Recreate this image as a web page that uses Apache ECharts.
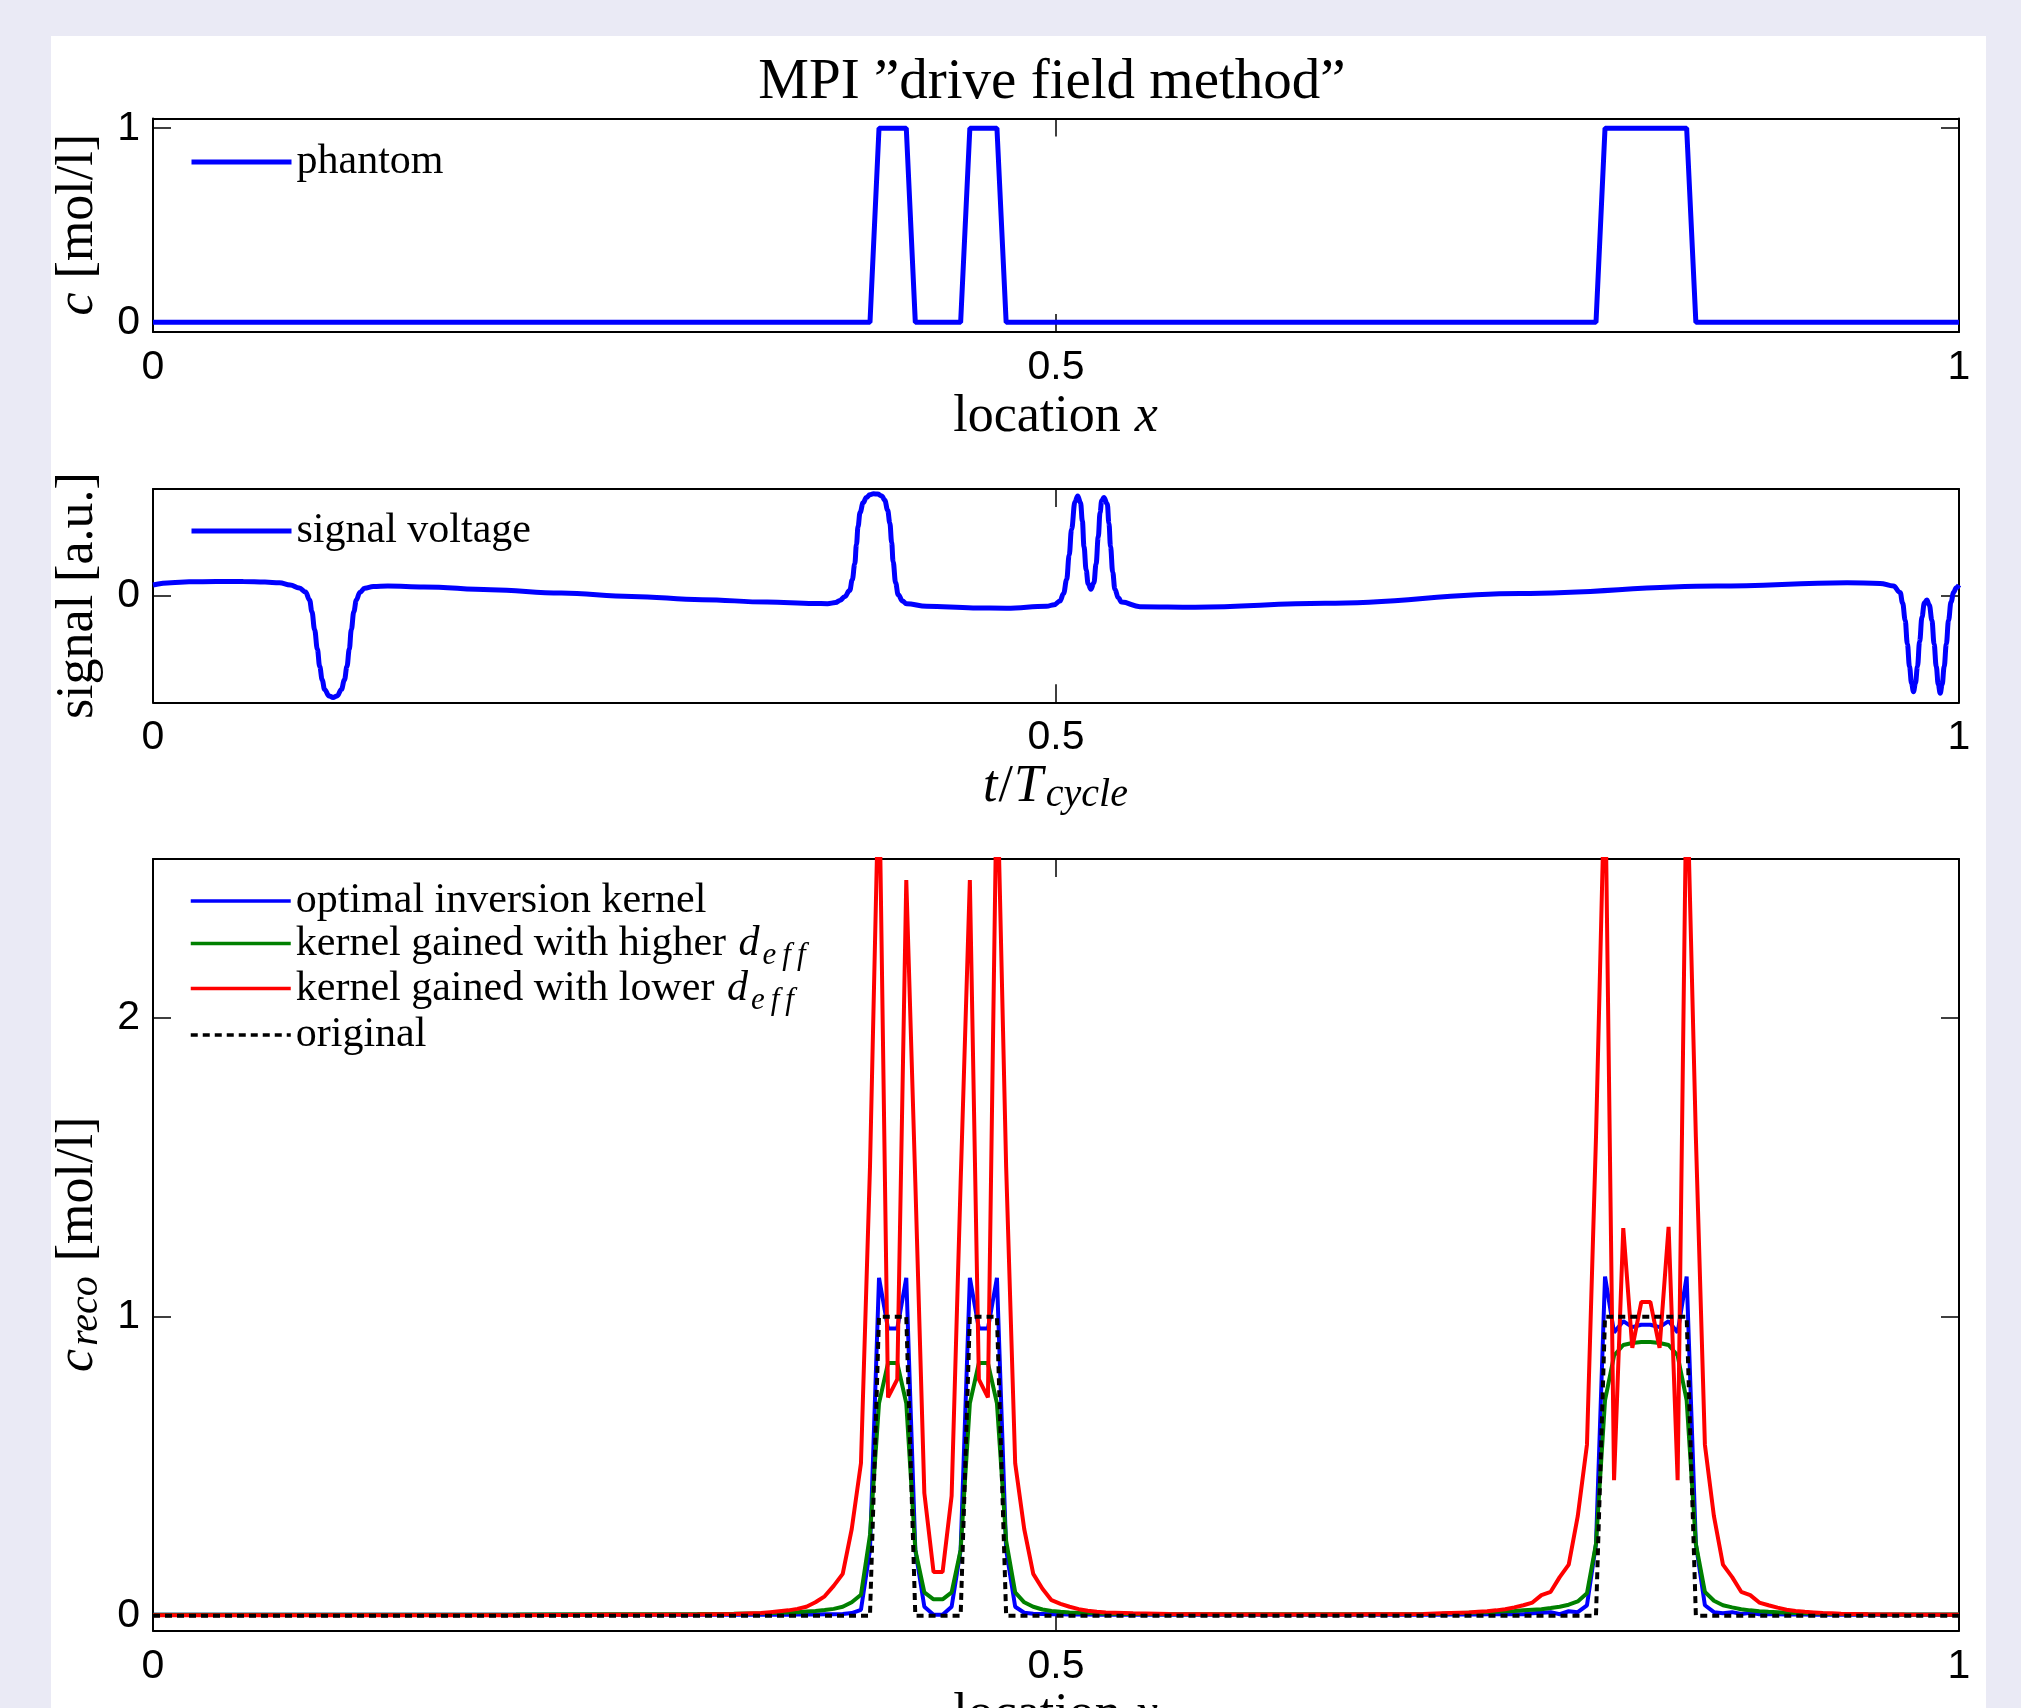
<!DOCTYPE html>
<html><head><meta charset="utf-8">
<script src="https://cdn.jsdelivr.net/npm/echarts@6/dist/echarts.min.js"></script>
<style>
html,body{margin:0;padding:0;background:#EAEAF5;width:2021px;height:1708px;overflow:hidden;}
#panel{position:absolute;left:51px;top:36px;width:1935px;height:1690px;background:#fff;}
#chart{position:absolute;left:0;top:0;width:2021px;height:1708px;}
</style></head><body>
<div id="panel"></div><div id="chart"></div>
<script>
// ---------- data ----------
const titleText = 'MPI \u201Ddrive field method\u201D';
const xTicks = [0, 0.5, 1];
const xTickLabels = ['0', '0.5', '1'];
const yTicks1 = [0, 1];
const yTicks2 = [0];
const yTicks3 = [0, 1, 2];

// phantom / original concentration (grid x_i = i/199)
const phantomX = [0, 0.3970, 0.4020, 0.4171, 0.4221, 0.4472, 0.4523, 0.4673, 0.4724, 0.7990, 0.8040, 0.8492, 0.8543, 1];
const phantomY = [0, 0, 1, 1, 0, 0, 1, 1, 0, 0, 1, 1, 0, 0];

// signal voltage over t/T_cycle
const signalT = [0, 0.01, 0.02, 0.035, 0.05, 0.062, 0.07, 0.076, 0.081, 0.0845, 0.0867, 0.088, 0.0895, 0.091, 0.0923, 0.0937, 0.095, 0.0975, 0.0997, 0.102, 0.1043, 0.106, 0.1074, 0.1087, 0.1098, 0.1112, 0.1126, 0.1145, 0.1172, 0.122, 0.13, 0.15, 0.187, 0.226, 0.265, 0.304, 0.34, 0.366, 0.3735, 0.378, 0.3803, 0.383, 0.3858, 0.3872, 0.3886, 0.3895, 0.3904, 0.3915, 0.3932, 0.395, 0.3969, 0.399, 0.4012, 0.4035, 0.4052, 0.4068, 0.408, 0.409, 0.4098, 0.4112, 0.4126, 0.415, 0.4172, 0.4283, 0.4541, 0.4726, 0.4948, 0.499, 0.5022, 0.5042, 0.5059, 0.5073, 0.5086, 0.5105, 0.512, 0.5136, 0.5146, 0.5155, 0.5167, 0.5178, 0.5193, 0.521, 0.5222, 0.5234, 0.5244, 0.5253, 0.5265, 0.5284, 0.5293, 0.5302, 0.5314, 0.5326, 0.5345, 0.5363, 0.5465, 0.577, 0.649, 0.757, 0.866, 0.938, 0.9563, 0.9637, 0.9674, 0.9688, 0.9702, 0.9714, 0.9726, 0.9737, 0.9748, 0.9759, 0.977, 0.9782, 0.9795, 0.9808, 0.9822, 0.9836, 0.985, 0.9862, 0.9874, 0.9885, 0.9896, 0.9907, 0.9918, 0.993, 0.9942, 0.9956, 0.997, 0.9985, 1.0];
const signalV = [0.10, 0.122, 0.13, 0.133, 0.132, 0.127, 0.12, 0.10, 0.072, 0.035, -0.04, -0.15, -0.32, -0.50, -0.665, -0.79, -0.88, -0.94, -0.955, -0.94, -0.88, -0.79, -0.665, -0.50, -0.32, -0.15, -0.04, 0.03, 0.07, 0.085, 0.09, 0.082, 0.055, 0.024, -0.008, -0.038, -0.06, -0.073, -0.075, -0.065, -0.045, -0.01, 0.05, 0.15, 0.30, 0.48, 0.65, 0.78, 0.87, 0.92, 0.945, 0.955, 0.953, 0.935, 0.895, 0.80, 0.68, 0.50, 0.32, 0.12, 0.01, -0.05, -0.075, -0.10, -0.115, -0.118, -0.10, -0.085, -0.05, 0.02, 0.15, 0.38, 0.62, 0.88, 0.935, 0.87, 0.70, 0.46, 0.24, 0.11, 0.06, 0.12, 0.30, 0.55, 0.78, 0.89, 0.92, 0.86, 0.68, 0.46, 0.22, 0.06, -0.02, -0.06, -0.103, -0.108, -0.072, 0.02, 0.09, 0.12, 0.115, 0.09, 0.03, -0.07, -0.23, -0.45, -0.665, -0.82, -0.90, -0.82, -0.665, -0.43, -0.20, -0.07, -0.04, -0.09, -0.23, -0.45, -0.665, -0.83, -0.915, -0.83, -0.665, -0.45, -0.23, -0.06, 0.03, 0.075, 0.10];

// reconstruction grid positions (subset of x_i = i/199)
const recoX = [0, 0.1005, 0.2010, 0.2513, 0.3015, 0.3216, 0.3367,
  0.3417, 0.3467, 0.3518, 0.3568, 0.3618, 0.3668, 0.3719, 0.3769, 0.3819, 0.3869, 0.3920, 0.3970, 0.4020, 0.4070, 0.4121, 0.4171, 0.4221, 0.4271, 0.4322, 0.4372, 0.4422, 0.4472, 0.4523, 0.4573, 0.4623, 0.4673, 0.4724, 0.4774, 0.4824, 0.4874, 0.4925, 0.4975, 0.5025, 0.5075, 0.5126, 0.5176, 0.5226, 0.5276,
  0.5427, 0.5628, 0.6030, 0.6533, 0.7035, 0.7136,
  0.7186, 0.7236, 0.7286, 0.7337, 0.7387, 0.7437, 0.7487, 0.7538, 0.7588, 0.7638, 0.7688, 0.7739, 0.7789, 0.7839, 0.7889, 0.7940, 0.7990, 0.8040, 0.8090, 0.8141, 0.8191, 0.8241, 0.8291, 0.8342, 0.8392, 0.8442, 0.8492, 0.8543, 0.8593, 0.8643, 0.8693, 0.8744, 0.8794, 0.8844, 0.8894, 0.8945, 0.8995, 0.9045, 0.9095, 0.9146, 0.9196, 0.9246, 0.9296, 0.9347,
  0.9497, 0.9698, 1.0];
const optimalY = [0.003, 0.003, 0.003, 0.003, 0.003, 0.003, 0.003,
  0.003, 0.003, 0.003, 0.004, 0.004, 0.004, 0.005, 0.005, 0.006, 0.009, 0.02, 0.22, 1.13, 0.96, 0.96, 1.13, 0.22, 0.03, 0.003, 0.003, 0.03, 0.22, 1.13, 0.96, 0.96, 1.13, 0.22, 0.03, 0.01, 0.007, 0.006, 0.005, 0.005, 0.004, 0.004, 0.004, 0.003, 0.003,
  0.003, 0.003, 0.003, 0.003, 0.003, 0.003,
  0.004, 0.004, 0.004, 0.004, 0.005, 0.005, 0.005, 0.005, 0.005, 0.008, 0.010, 0.012, 0.005, 0.015, 0.012, 0.035, 0.24, 1.134, 0.947, 0.985, 0.965, 0.973, 0.973, 0.965, 0.985, 0.947, 1.134, 0.24, 0.035, 0.012, 0.008, 0.012, 0.006, 0.010, 0.005, 0.006, 0.005, 0.004, 0.004, 0.004, 0.003, 0.003, 0.003, 0.003,
  0.003, 0.003, 0.003];
const higherY = [0.003, 0.003, 0.004, 0.005, 0.006, 0.007, 0.008,
  0.009, 0.010, 0.011, 0.012, 0.014, 0.016, 0.019, 0.023, 0.030, 0.045, 0.070, 0.27, 0.71, 0.845, 0.845, 0.71, 0.22, 0.078, 0.055, 0.055, 0.078, 0.22, 0.71, 0.845, 0.845, 0.71, 0.25, 0.078, 0.045, 0.030, 0.021, 0.016, 0.013, 0.011, 0.010, 0.009, 0.008, 0.007,
  0.006, 0.005, 0.005, 0.005, 0.006, 0.007,
  0.008, 0.009, 0.010, 0.011, 0.012, 0.013, 0.015, 0.016, 0.018, 0.020, 0.022, 0.026, 0.030, 0.037, 0.048, 0.075, 0.24, 0.72, 0.87, 0.905, 0.912, 0.915, 0.915, 0.912, 0.905, 0.87, 0.72, 0.24, 0.08, 0.05, 0.035, 0.028, 0.022, 0.018, 0.015, 0.013, 0.012, 0.010, 0.009, 0.008, 0.008, 0.007, 0.006, 0.006,
  0.005, 0.004, 0.004];
const lowerY = [0.002, 0.002, 0.002, 0.003, 0.004, 0.006, 0.009,
  0.012, 0.015, 0.018, 0.023, 0.030, 0.045, 0.065, 0.100, 0.140, 0.290, 0.510, 1.50, 2.85, 0.73, 0.79, 2.46, 1.45, 0.41, 0.146, 0.146, 0.40, 1.45, 2.46, 0.79, 0.73, 2.85, 1.50, 0.51, 0.29, 0.14, 0.09, 0.052, 0.040, 0.030, 0.022, 0.017, 0.013, 0.011,
  0.008, 0.006, 0.004, 0.004, 0.006, 0.008,
  0.009, 0.010, 0.011, 0.013, 0.015, 0.018, 0.022, 0.028, 0.035, 0.044, 0.069, 0.080, 0.129, 0.171, 0.333, 0.572, 1.60, 2.85, 0.453, 1.296, 0.896, 1.049, 1.049, 0.896, 1.30, 0.453, 2.85, 1.60, 0.572, 0.333, 0.171, 0.129, 0.080, 0.069, 0.044, 0.035, 0.027, 0.020, 0.016, 0.013, 0.011, 0.009, 0.008, 0.007,
  0.005, 0.004, 0.003];

// ---------- styling ----------
const SERIF = '"Liberation Serif", "Times New Roman", serif';
const SANS = '"Liberation Sans", Arial, sans-serif';
const BLACK = '#000000';
const pairs = (xs, ys) => xs.map((x, i) => [x, ys[i]]);

const nameStyle = {
  color: BLACK, fontFamily: SERIF, fontSize: 52, lineHeight: 56,
  rich: {
    i: { color: BLACK, fontFamily: SERIF, fontSize: 52, fontStyle: 'italic', lineHeight: 56, padding: [0, 1, 0, 1] },
    s: { color: BLACK, fontFamily: SERIF, fontSize: 40, fontStyle: 'italic', lineHeight: 56, padding: [16, 2, 0, 2] }
  }
};
const legendText = {
  color: BLACK, fontFamily: SERIF, fontSize: 42, lineHeight: 44,
  rich: {
    i: { color: BLACK, fontFamily: SERIF, fontSize: 42, fontStyle: 'italic', lineHeight: 44, padding: [0, 2, 0, 2] },
    s: { color: BLACK, fontFamily: SERIF, fontSize: 31, fontStyle: 'italic', lineHeight: 44, padding: [24, 5, 0, 1] }
  }
};
const axLine = { show: true, onZero: false, lineStyle: { color: BLACK, width: 2 } };
const tickStyle = { color: BLACK, width: 1.5 };
const tickLabel = { color: BLACK, fontFamily: SANS, fontSize: 41 };

const grids = [
  { left: 153, top: 118.5, width: 1806, height: 213.5 },
  { left: 153, top: 489, width: 1806, height: 213.3 },
  { left: 153, top: 859, width: 1806, height: 771.7 }
].map(g => Object.assign(g, { containLabel: false, outerBoundsMode: 'none', show: false }));

function xAxes(gi, name, nameGap) {
  return [{
    type: 'value', gridIndex: gi, min: 0, max: 1, position: 'bottom',
    axisLine: axLine,
    axisTick: { show: true, inside: true, length: 18, customValues: xTicks, lineStyle: tickStyle },
    axisLabel: Object.assign({ show: true, customValues: xTicks, margin: 15,
      formatter: v => { const k = xTicks.indexOf(v); return k >= 0 ? xTickLabels[k] : String(v); } }, tickLabel),
    splitLine: { show: false },
    name: name, nameLocation: 'middle', nameGap: nameGap, nameTextStyle: nameStyle
  }, {
    type: 'value', gridIndex: gi, min: 0, max: 1, position: 'top',
    axisLine: axLine,
    axisTick: { show: true, inside: true, length: 18, customValues: xTicks, lineStyle: tickStyle },
    axisLabel: { show: false }, splitLine: { show: false }
  }];
}
function yAxes(gi, min, max, ticks, name, nameGap) {
  return [{
    type: 'value', gridIndex: gi, min: min, max: max, position: 'left',
    axisLine: axLine,
    axisTick: { show: true, inside: true, length: 18, customValues: ticks, lineStyle: tickStyle },
    axisLabel: Object.assign({ show: true, customValues: ticks, margin: 13 }, tickLabel),
    splitLine: { show: false },
    name: name, nameLocation: 'middle', nameGap: nameGap, nameTextStyle: nameStyle
  }, {
    type: 'value', gridIndex: gi, min: min, max: max, position: 'right',
    axisLine: axLine,
    axisTick: { show: true, inside: true, length: 18, customValues: ticks, lineStyle: tickStyle },
    axisLabel: { show: false }, splitLine: { show: false }
  }];
}

const NAMES = {
  phantom: 'phantom',
  signal: 'signal voltage',
  optimal: 'optimal inversion kernel',
  higher: 'kernel gained with higher d_eff',
  lower: 'kernel gained with lower d_eff',
  original: 'original'
};
const COLORS = { blue: '#0000FF', green: '#008000', red: '#FF0000', black: '#000000' };
const DOTS = [7, 5];

function lineSeries(name, gi, data, color, width, extra) {
  return Object.assign({
    type: 'line', name: name, xAxisIndex: 2 * gi, yAxisIndex: 2 * gi, data: data,
    color: color, symbol: 'none', showSymbol: false, clip: true, animation: false,
    lineStyle: { color: color, width: width }
  }, extra || {});
}
function legendAt(name, left, top, color, width, dash) {
  return {
    data: [name], left: left, top: top, orient: 'vertical', padding: 0,
    itemWidth: 100, itemHeight: 14, itemGap: 0, selectedMode: false,
    textStyle: legendText,
    itemStyle: { color: 'rgba(0,0,0,0)', borderColor: 'rgba(0,0,0,0)', borderWidth: 0, opacity: 0 },
    lineStyle: { color: color, width: width, type: dash || 'solid', opacity: 1 },
    formatter: n => n.replace(' d_eff', ' {i|d}{s|e}{s|f}{s|f}')
  };
}

const option = {
  animation: false,
  backgroundColor: 'transparent',
  graphic: [{
    type: 'text', x: 1052, y: 83, silent: true,
    style: { text: titleText, fill: BLACK, font: '57px "Liberation Serif"', textAlign: 'center', textVerticalAlign: 'middle', verticalAlign: 'middle' }
  }],
  grid: grids,
  xAxis: [].concat(
    xAxes(0, 'location {i|x}', 57),
    xAxes(1, '{i|t}/{i|T}{s|cycle}', 57),
    xAxes(2, 'location {i|x}', 57)
  ),
  yAxis: [].concat(
    yAxes(0, -0.05, 1.05, yTicks1, '{i|c} [mol/l]', 47),
    yAxes(1, -1, 1, yTicks2, 'signal [a.u.]', 47),
    yAxes(2, -0.05, 2.53, yTicks3, '{i|c}{s|reco} [mol/l]', 47)
  ),
  legend: [
    legendAt(NAMES.phantom, 189, 140, COLORS.blue, 5),
    legendAt(NAMES.signal, 189, 509, COLORS.blue, 5),
    legendAt(NAMES.optimal, 189, 879, COLORS.blue, 3.5),
    legendAt(NAMES.higher, 189, 916, COLORS.green, 3.5),
    legendAt(NAMES.lower, 189, 961, COLORS.red, 3.5),
    legendAt(NAMES.original, 189, 1013, COLORS.black, 3.5, DOTS)
  ],
  series: [
    lineSeries(NAMES.phantom, 0, pairs(phantomX, phantomY), COLORS.blue, 5),
    lineSeries(NAMES.signal, 1, pairs(signalT, signalV), COLORS.blue, 5, { smooth: 0.4, smoothMonotone: 'x' }),
    lineSeries(NAMES.optimal, 2, pairs(recoX, optimalY), COLORS.blue, 4),
    lineSeries(NAMES.higher, 2, pairs(recoX, higherY), COLORS.green, 4),
    lineSeries(NAMES.lower, 2, pairs(recoX, lowerY), COLORS.red, 4),
    lineSeries(NAMES.original, 2, pairs(phantomX, phantomY), COLORS.black, 4,
      { lineStyle: { color: COLORS.black, width: 4, type: DOTS } })
  ]
};

const chart = echarts.init(document.getElementById('chart'), null, { renderer: 'canvas', width: 2021, height: 1708 });
chart.setOption(option);
</script></body></html>
